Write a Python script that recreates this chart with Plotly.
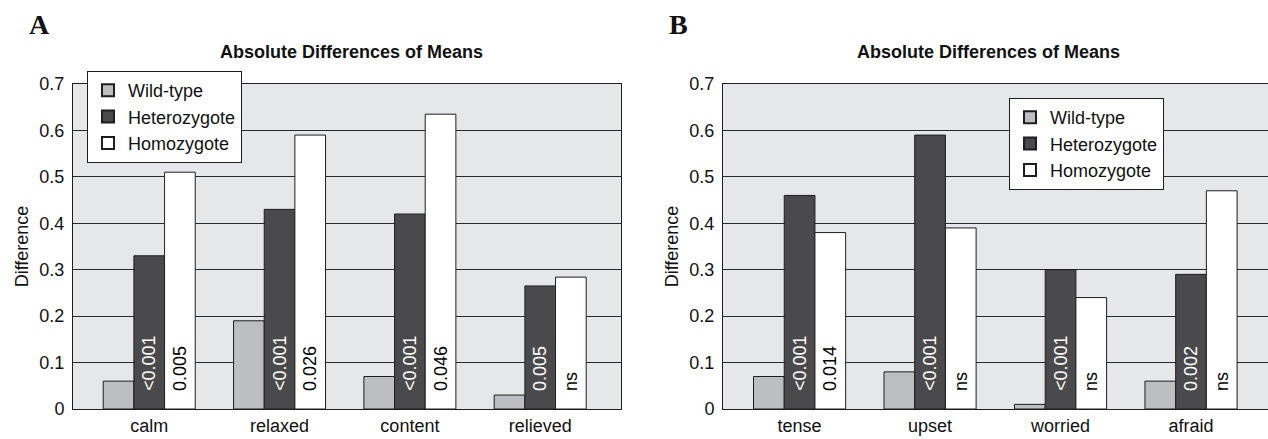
import plotly.graph_objects as go

# ---------------- data ----------------
series_names = ["Wild-type", "Heterozygote", "Homozygote"]

cats_a = ["calm", "relaxed", "content", "relieved"]
wild_a = [0.06, 0.19, 0.07, 0.03]
het_a = [0.33, 0.43, 0.42, 0.265]
hom_a = [0.51, 0.59, 0.635, 0.284]
het_p_a = ["<0.001", "<0.001", "<0.001", "0.005"]
hom_p_a = ["0.005", "0.026", "0.046", "ns"]

cats_b = ["tense", "upset", "worried", "afraid"]
wild_b = [0.07, 0.08, 0.01, 0.06]
het_b = [0.46, 0.59, 0.30, 0.29]
hom_b = [0.38, 0.39, 0.24, 0.47]
het_p_b = ["<0.001", "<0.001", "<0.001", "0.002"]
hom_p_b = ["0.014", "ns", "ns", "ns"]

y_ticks = [0, 0.1, 0.2, 0.3, 0.4, 0.5, 0.6, 0.7]
y_tick_labels = ["0", "0.1", "0.2", "0.3", "0.4", "0.5", "0.6", "0.7"]
boundary_ticks = [0.5, 1.5, 2.5]

title_text = "Absolute Differences of Means"
y_title = "Difference"

# ---------------- style ----------------
FONT = "Arial, 'Liberation Sans', Helvetica, sans-serif"
SERIF = "'Times New Roman', 'Liberation Serif', serif"
colors = ["#bdbec1", "#4a4a4c", "#ffffff"]
text_colors = ["#000000", "#ffffff", "#000000"]
edge = "#1e1e1e"
pad = "\u00a0\u00a0\u00a0"

W, H = 1268, 439


def px_x(p):
    return p / W


def px_y(p):
    return (H - p) / H


fig = go.Figure()


def add_panel(cats, vals_list, texts_list, xa, ya, legend_name):
    for i, (name, vals, texts) in enumerate(zip(series_names, vals_list, texts_list)):
        fig.add_trace(go.Bar(
            x=cats, y=vals, name=name,
            xaxis=xa, yaxis=ya,
            marker=dict(color=colors[i], line=dict(color=edge, width=1)),
            text=[(pad + t) if t else "" for t in texts] if texts else None,
            textposition="inside",
            insidetextanchor="start",
            textangle=-90,
            textfont=dict(family=FONT, size=18, color=text_colors[i]),
            constraintext="none",
            legend=legend_name,
            hoverinfo="x+y+name",
        ))


add_panel(cats_a, [wild_a, het_a, hom_a], [None, het_p_a, hom_p_a], "x", "y", "legend")
add_panel(cats_b, [wild_b, het_b, hom_b], [None, het_p_b, hom_p_b], "x2", "y2", "legend2")

xr = [-0.585, 3.62]
ydom = [px_y(409), px_y(84)]
dom_a = [px_x(73), px_x(621)]
dom_b = [px_x(723), 1.0]
xr_b = [-0.587, 3.59]

common_x = dict(
    type="category", showline=True, linecolor=edge, linewidth=1, mirror=True,
    ticks="", showgrid=False, tickfont=dict(family=FONT, size=18, color="#111"),
    fixedrange=True, automargin=False,
)
common_y = dict(
    range=[0, 0.7], tickvals=y_ticks, ticktext=y_tick_labels,
    showline=True, linecolor=edge, linewidth=1, mirror=True,
    showgrid=True, gridcolor="#2a2a2a", gridwidth=1, zeroline=False,
    ticks="", tickfont=dict(family=FONT, size=18, color="#111"),
    ticklabelstandoff=4,
    title=dict(text=y_title, font=dict(family=FONT, size=18, color="#111"), standoff=6),
    domain=ydom, automargin=False, fixedrange=True,
)
tick_axis = dict(
    type="linear", showline=False, showgrid=False, zeroline=False,
    ticks="inside", ticklen=10, tickwidth=1, tickcolor=edge,
    tickvals=boundary_ticks, showticklabels=False, fixedrange=True,
)

legend_common = dict(
    xanchor="left", yanchor="top",
    bgcolor="white", bordercolor=edge, borderwidth=1,
    font=dict(family=FONT, size=18, color="#111"),
    tracegroupgap=0, itemsizing="constant",
)

fig.update_layout(
    width=W, height=H,
    autosize=False,
    margin=dict(l=0, r=0, t=0, b=0, pad=0, autoexpand=False),
    paper_bgcolor="white",
    plot_bgcolor="#e6e7e9",
    barmode="group", bargap=0.294, bargroupgap=0,
    font=dict(family=FONT, color="#111"),
    xaxis=dict(**common_x, domain=dom_a, range=xr, anchor="y"),
    yaxis=dict(**common_y, anchor="x"),
    xaxis2=dict(**common_x, domain=dom_b, range=xr_b, anchor="y2"),
    yaxis2=dict(**common_y, anchor="x2"),
    xaxis3=dict(**tick_axis, domain=dom_a, range=xr, anchor="y", overlaying="x"),
    xaxis4=dict(**tick_axis, domain=dom_b, range=xr_b, anchor="y2", overlaying="x2"),
    legend=dict(x=px_x(87), y=px_y(71), **legend_common),
    legend2=dict(x=px_x(1009), y=px_y(98), **legend_common),
    showlegend=True,
    annotations=[
        dict(text="<b>A</b>", x=px_x(27), y=px_y(7), xref="paper", yref="paper",
             xanchor="left", yanchor="top", showarrow=False,
             font=dict(family=SERIF, size=28, color="#111")),
        dict(text="<b>B</b>", x=px_x(667), y=px_y(7), xref="paper", yref="paper",
             xanchor="left", yanchor="top", showarrow=False,
             font=dict(family=SERIF, size=28, color="#111")),
        dict(text="<b>" + title_text + "</b>", x=px_x(351), y=px_y(52), xref="paper", yref="paper",
             xanchor="center", yanchor="middle", showarrow=False,
             font=dict(family=FONT, size=18, color="#111")),
        dict(text="<b>" + title_text + "</b>", x=px_x(988), y=px_y(52), xref="paper", yref="paper",
             xanchor="center", yanchor="middle", showarrow=False,
             font=dict(family=FONT, size=18, color="#111")),
    ],
)

fig.write_html(
    "out.html",
    config={"displayModeBar": False},
    post_script="document.body.style.margin='0';document.body.style.overflow='hidden';",
)
